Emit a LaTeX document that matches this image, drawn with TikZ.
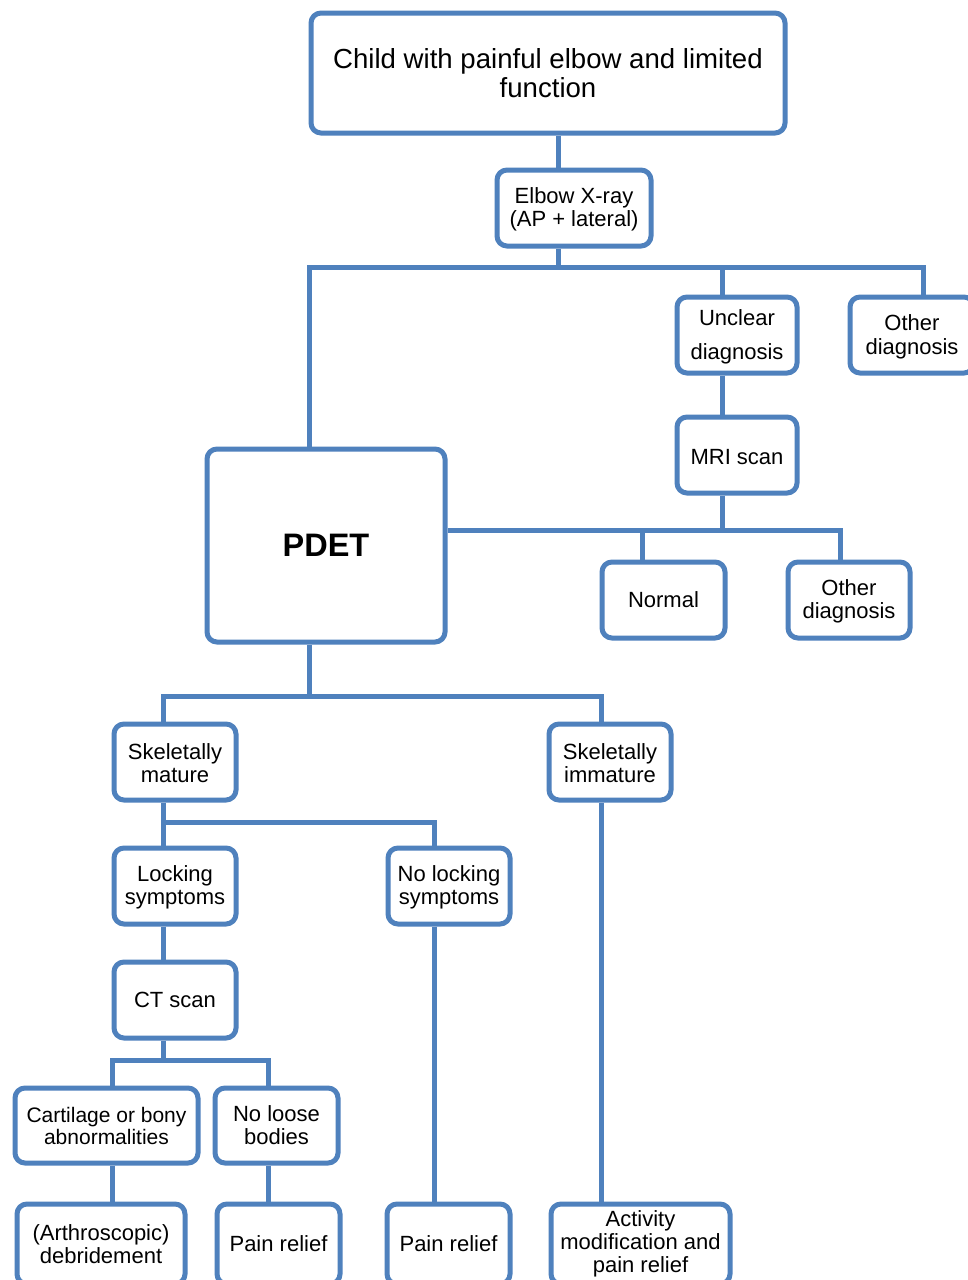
\documentclass[tikz,border=0pt]{standalone}
\usepackage{fontspec}
\setmainfont{Liberation Sans}
\definecolor{boxblue}{HTML}{4F81BD}
\tikzset{
  box/.style={draw=boxblue, line width=5pt, rounded corners=10pt, fill=white,
    align=center, inner sep=0pt, font=\fontsize{22}{23}\selectfont},
  conn/.style={draw=boxblue, line width=5pt}
}
\begin{document}
\begin{tikzpicture}[x=1pt,y=-1pt]
\useasboundingbox (0,0) rectangle (968,1280);
\fill[white] (0,0) rectangle (968,1280);
\clip (0,0) rectangle (968,1280);
% bus coordinates
\coordinate (b1) at (558,267);
\coordinate (bL) at (309,267);
\coordinate (bU) at (722,267);
\coordinate (bR) at (923,267);
\coordinate (m1) at (722,530);
\coordinate (mN) at (642,530);
\coordinate (mO) at (840,530);
\coordinate (p1) at (309,696);
\coordinate (pL) at (163,696);
\coordinate (pR) at (601,696);
\coordinate (s1) at (163,822);
\coordinate (sR) at (434,822);
\coordinate (c1) at (163,1060);
\coordinate (cL) at (112,1060);
\coordinate (cR) at (268,1060);

% nodes
\node[box, minimum width=474pt, minimum height=120pt, font=\fontsize{27.6}{28.5}\selectfont] (top) at (548,73) {Child with painful elbow and limited\\function};
\node[box, minimum width=154pt, minimum height=76pt] (elbow) at (574,208) {\rule{0pt}{19pt}Elbow X-ray\\(AP + lateral)};
\node[box, minimum width=120pt, minimum height=76pt, font=\fontsize{22}{34}\selectfont] (unclear) at (737,335) {\rule{0pt}{19pt}Unclear\\diagnosis};
\node[box, minimum width=124pt, minimum height=76pt, font=\fontsize{22}{24}\selectfont] (other1) at (912,335) {\rule{0pt}{19pt}Other\\diagnosis};
\node[box, minimum width=120pt, minimum height=76pt] (mri) at (737,455) {\rule{0pt}{19pt}MRI scan};
\node[box, minimum width=238pt, minimum height=193pt, font=\fontsize{32.5}{34}\selectfont\bfseries] (pdet) at (326,545.5) {PDET};
\node[box, minimum width=123pt, minimum height=76pt] (normal) at (663.5,600) {Normal};
\node[box, minimum width=122pt, minimum height=76pt] (other2) at (849,600) {\rule{0pt}{19pt}Other\\diagnosis};
\node[box, minimum width=122pt, minimum height=76pt] (smat) at (175,762) {\rule{0pt}{19pt}Skeletally\\mature};
\node[box, minimum width=122pt, minimum height=76pt] (simm) at (610,762) {\rule{0pt}{19pt}Skeletally\\immature};
\node[box, minimum width=122pt, minimum height=76pt] (lock) at (175,886) {\rule{0pt}{19pt}Locking\\symptoms};
\node[box, minimum width=122pt, minimum height=76pt] (nolock) at (449,886) {\rule{0pt}{19pt}No locking\\symptoms};
\node[box, minimum width=122pt, minimum height=76pt] (ct) at (175,1000) {CT scan};
\node[box, minimum width=183pt, minimum height=75pt, font=\fontsize{21}{22}\selectfont] (cart) at (106.5,1125.5) {Cartilage or bony\\abnormalities};
\node[box, minimum width=123pt, minimum height=75pt] (noloose) at (276.5,1125.5) {No loose\\bodies};
\node[box, minimum width=168pt, minimum height=80pt] (arth) at (101,1244) {(Arthroscopic)\\debridement};
\node[box, minimum width=123pt, minimum height=80pt] (pain1) at (278.5,1244) {Pain relief};
\node[box, minimum width=123pt, minimum height=80pt] (pain2) at (448.5,1244) {Pain relief};
\node[box, minimum width=179pt, minimum height=80pt] (act) at (640.5,1244) {Activity\\modification and\\pain relief};

% connectors
\draw[conn] (top.south -| b1) -- (elbow.north -| b1);
\draw[conn] (elbow.south -| b1) -- (b1);
\draw[conn] (pdet.north -| bL) -- (bL) -- (bR) -- (other1.north -| bR);
\draw[conn] (bU) -- (unclear.north -| bU);
\draw[conn] (unclear.south -| bU) -- (mri.north -| bU);
\draw[conn] (mri.south -| m1) -- (m1);
\draw[conn] (pdet.east |- m1) -- (mO) -- (other2.north -| mO);
\draw[conn] (mN) -- (normal.north -| mN);
\draw[conn] (pdet.south -| p1) -- (p1);
\draw[conn] (smat.north -| pL) -- (pL) -- (pR) -- (simm.north -| pR);
\draw[conn] (smat.south -| s1) -- (lock.north -| s1);
\draw[conn] (s1) -- (sR) -- (nolock.north -| sR);
\draw[conn] (lock.south -| s1) -- (ct.north -| s1);
\draw[conn] (ct.south -| c1) -- (c1);
\draw[conn] (cart.north -| cL) -- (cL) -- (cR) -- (noloose.north -| cR);
\draw[conn] (cart.south -| cL) -- (arth.north -| cL);
\draw[conn] (noloose.south -| cR) -- (pain1.north -| cR);
\draw[conn] (nolock.south -| sR) -- (pain2.north -| sR);
\draw[conn] (simm.south -| pR) -- (act.north -| pR);
\end{tikzpicture}
\end{document}
